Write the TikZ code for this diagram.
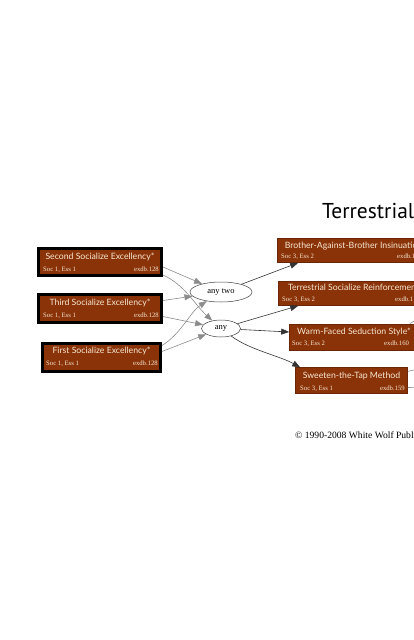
\documentclass[tikz,border=0pt]{standalone}
\usepackage{fontspec}
\setmainfont{Liberation Serif}
\newfontfamily\ttlfont{Lato}
\newfontfamily\headfont{PT Sans}
\usetikzlibrary{arrows.meta,shapes.geometric}
\definecolor{brn}{HTML}{8A3208}
\definecolor{brnline}{HTML}{6A2606}
\definecolor{cream}{HTML}{F6E8D2}
\definecolor{edgegray}{HTML}{8C8C8C}
\tikzset{
  lbox/.style={draw=black, line width=3pt, fill=brn, rectangle, inner sep=0pt},
  rbox/.style={draw=brnline, line width=0.6pt, fill=brn, rectangle, inner sep=0pt},
  ttl/.style={text=cream, font=\ttlfont\fontsize{8.7}{10}\selectfont, inner sep=0pt, anchor=base},
  subl/.style={text=cream, font=\fontsize{6.7}{8}\selectfont, inner sep=0pt, anchor=base west},
  subr/.style={text=cream, font=\fontsize{6.7}{8}\selectfont, inner sep=0pt, anchor=base east},
  ell/.style={draw=black!75, ellipse, line width=0.5pt, inner sep=0pt, font=\fontsize{8.5}{9}\selectfont},
  gedge/.style={draw=edgegray, line width=0.6pt, -{Triangle[length=8pt,width=6pt]}, fill=none},
  gline/.style={draw=edgegray, line width=0.6pt},
  bedge/.style={draw=black!80, line width=0.6pt, -{Triangle[length=8pt,width=6pt]}},
  bigtitle/.style={font=\headfont\fontsize{21.5}{26}\selectfont, inner sep=0pt, anchor=base west},
  copyr/.style={font=\fontsize{9.6}{11}\selectfont, inner sep=0pt, anchor=base west}
}
\begin{document}
\begin{tikzpicture}[x=1pt,y=-1pt]
\useasboundingbox (0,0) rectangle (414,640);
\clip (0,0) rectangle (414,640);

% title
\node[bigtitle] (title) at (322,218) {Terrestrial};

% left boxes
\node[lbox, minimum width=123pt, minimum height=27pt] (second) at (100,262) {};
\node[ttl] (secondt) at (100,259) {Second Socialize Excellency*};
\node[subl] (seconds) at (43,271) {Soc 1, Ess 1};
\node[subr] (secondx) at (159,271) {exdb.128};

\node[lbox, minimum width=123pt, minimum height=28pt] (third) at (100,308.5) {};
\node[ttl] (thirdt) at (100,305) {Third Socialize Excellency*};
\node[subl] (thirds) at (43,317) {Soc 1, Ess 1};
\node[subr] (thirdx) at (159,317) {exdb.128};

\node[lbox, minimum width=118pt, minimum height=28pt] (first) at (101.5,357.5) {};
\node[ttl] (firstt) at (101.5,353) {First Socialize Excellency*};
\node[subl] (firsts) at (46,365) {Soc 1, Ess 1};
\node[subr] (firstx) at (158,365) {exdb.128};

% ellipses
\node[ell, minimum width=62pt, minimum height=20pt] (anytwo) at (221,292) {any two};
\node[ell, minimum width=39pt, minimum height=17pt] (any) at (221,328.5) {any};

% right boxes
\node[rbox, minimum width=152pt, minimum height=24pt] (brother) at (353.5,250.5) {};
\node[ttl] (brothert) at (353.5,248) {Brother-Against-Brother Insinuation};
\node[subl] (brothers) at (281,258.5) {Soc 3, Ess 2};
\node[subl] (brotherx) at (397,258.5) {exdb.1};

\node[rbox, minimum width=150pt, minimum height=24pt] (reinf) at (353.5,293.5) {};
\node[ttl] (reinft) at (353.5,290.5) {Terrestrial Socialize Reinforcement};
\node[subl] (reinfs) at (282,301.5) {Soc 3, Ess 2};
\node[subl] (reinfx) at (395,301.5) {exdb.1};

\node[rbox, minimum width=129pt, minimum height=26pt] (warm) at (354,337) {};
\node[ttl] (warmt) at (354,334.5) {Warm-Faced Seduction Style*};
\node[subl] (warms) at (292,345.5) {Soc 3, Ess 2};
\node[subl] (warmx) at (384,345.5) {exdb.160};

\node[rbox, minimum width=112pt, minimum height=25.5pt] (sweeten) at (351.5,380.5) {};
\node[ttl] (sweetent) at (351.5,378) {Sweeten-the-Tap Method};
\node[subl] (sweetens) at (300,390) {Soc 3, Ess 1};
\node[subr] (sweetenx) at (405,390) {exdb.159};

% gray edges
\draw[gedge] ([yshift=-5pt]second.east) -- (anytwo);
\draw[gedge] ([yshift=-13pt]second.east) .. controls (185,285) and (195,305) .. (any);
\draw[gedge] ([yshift=8pt]third.east) -- (anytwo);
\draw[gedge] ([yshift=-8pt]third.east) -- (any);
\draw[gedge] ([yshift=12pt]first.east) .. controls (182,333) and (190,312) .. (anytwo);
\draw[gedge] ([yshift=6pt]first.east) -- (any);

% black edges
\draw[bedge] (anytwo) -- ([xshift=21pt]brother.south west);
\draw[bedge] (any) -- ([xshift=20pt]reinf.south west);
\draw[bedge] (any) -- ([yshift=5pt]warm.west);
\draw[bedge] (any) .. controls (250,350) and (280,356) .. ([xshift=5pt]sweeten.north west);

% edges leaving the picture
\coordinate (offa) at (422,316);
\coordinate (offb) at (422,368);
\coordinate (offc) at (422,387);
\draw[gline] ([xshift=-9pt]warm.north east) -- (offa);
\draw[gline] ([yshift=-4pt]sweeten.north east) -- (offb);
\draw[gline] ([yshift=6pt]sweeten.south east) -- (offc);

% copyright
\node[copyr] (copy) at (295,438) {© 1990-2008 White Wolf Publishing};
\end{tikzpicture}
\end{document}
